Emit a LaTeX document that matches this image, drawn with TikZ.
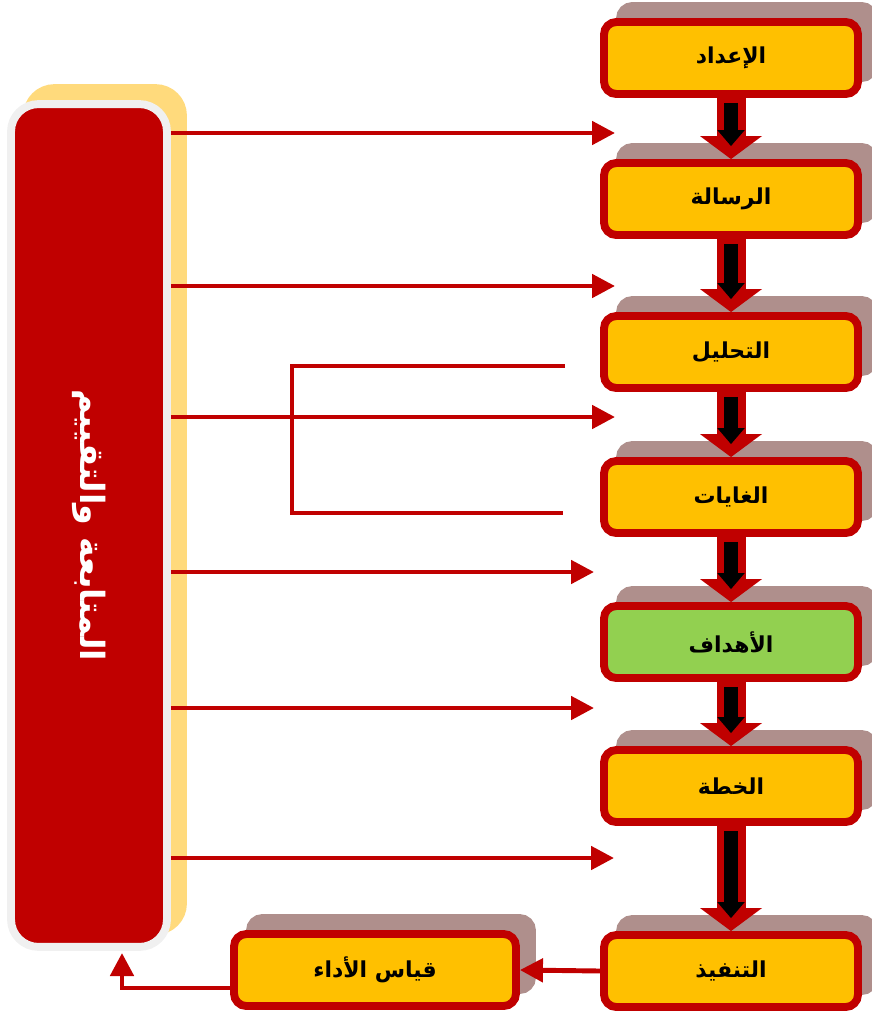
\documentclass[tikz,border=0pt]{standalone}
\usepackage{graphicx}
\usepackage{fontspec}
\newfontfamily\arabicfont[Script=Arabic]{DejaVu Sans}
\TeXXeTstate=1
\usetikzlibrary{arrows.meta,positioning,shadows}
\definecolor{boxred}{RGB}{192,0,0}
\definecolor{boxgold}{RGB}{255,192,0}
\definecolor{boxgreen}{RGB}{146,208,80}
\definecolor{shadebrown}{RGB}{175,143,140}
\definecolor{paleyellow}{RGB}{255,218,124}
\definecolor{rimgray}{RGB}{240,240,240}
\newcommand{\artext}[1]{\beginR#1\endR}

\begin{document}
\begin{tikzpicture}[x=0.02cm,y=-0.02cm,
  stage/.style={draw=boxred,line width=4.5pt,rounded corners=7pt,fill=boxgold,
    minimum width=5.08cm,minimum height=1.44cm,inner sep=0pt,
    font=\arabicfont\bfseries\fontsize{12.5}{14}\selectfont,
    drop shadow={shadow xshift=0.32cm,shadow yshift=0.32cm,opacity=1,
      fill=shadebrown,draw=shadebrown,line width=4.5pt}},
  panel/.style={draw=rimgray,line width=4.5pt,rounded corners=0.55cm,fill=boxred,
    minimum width=3.12cm,minimum height=16.86cm,inner sep=0pt,text=white,
    font=\arabicfont\bfseries\fontsize{19}{22}\selectfont,
    drop shadow={shadow xshift=0.32cm,shadow yshift=0.32cm,opacity=1,
      fill=paleyellow,draw=paleyellow,line width=4.5pt}},
  flow/.style={draw=black,line width=0.27cm,
    -{Triangle[width=0.55cm,length=0.32cm,line width=0pt]},
    shorten >=0.26cm,shorten <=0.1cm,
    preaction={draw=boxred,line width=0.58cm,
      -{Triangle[width=1.24cm,length=0.46cm,line width=0pt]},
      shorten >=0pt,shorten <=0pt}},
  feed/.style={draw=boxred,line width=2.8pt,-{Triangle[width=0.46cm,length=0.46cm]}},
  wire/.style={draw=boxred,line width=2.8pt}]
  \useasboundingbox (0,0) rectangle (872,1011);

  % follow-up panel on the left
  \node[panel] (track) at (89,525.5) {\rotatebox{-90}{\artext{المتابعة والتقييم}}};

  % planning stages
  \node[stage] (prep) at (731,58) {\artext{الإعداد}};
  \node[stage] (mission) at (731,199) {\artext{الرسالة}};
  \node[stage] (analysis) at (731,352) {\artext{التحليل}};
  \node[stage] (goals) at (731,497) {\artext{الغايات}};
  \node[stage,fill=boxgreen] (objectives) at (731,642) {\artext{الأهداف}};
  \node[stage] (plan) at (731,786) {\artext{الخطة}};
  \node[stage] (exec) at (731,971) {\artext{التنفيذ}};
  \node[stage,minimum width=5.64cm] (measure) at (375,970) {\artext{قياس الأداء}};

  \draw[flow] (prep.south) -- (mission.north);
  \draw[flow] (mission.south) -- (analysis.north);
  \draw[flow] (analysis.south) -- (goals.north);
  \draw[flow] (goals.south) -- (objectives.north);
  \draw[flow] (objectives.south) -- (plan.north);
  \draw[flow] (plan.south) -- (exec.north);

  % feedback lines from the panel
  \coordinate (in1) at (615,133);
  \coordinate (in2) at (615,286);
  \coordinate (in3) at (615,417);
  \coordinate (in4) at (594,572);
  \coordinate (in5) at (594,708);
  \coordinate (in6) at (614,858);
  \draw[feed] (track.east |- in1) -- (in1);
  \draw[feed] (track.east |- in2) -- (in2);
  \draw[feed] (track.east |- in3) -- (in3);
  \draw[feed] (track.east |- in4) -- (in4);
  \draw[feed] (track.east |- in5) -- (in5);
  \draw[feed] (track.east |- in6) -- (in6);

  % bracket
  \coordinate (brtop) at (565,366);
  \coordinate (brbot) at (563,513);
  \draw[wire] (brtop) -- ++(-273,0) |- (brbot);

  \draw[feed] (exec.west) -- (measure.east);
  \coordinate (back) at (122,953);
  \draw[feed] ([yshift=-0.36cm]measure.west) -| (back);
\end{tikzpicture}
\end{document}
